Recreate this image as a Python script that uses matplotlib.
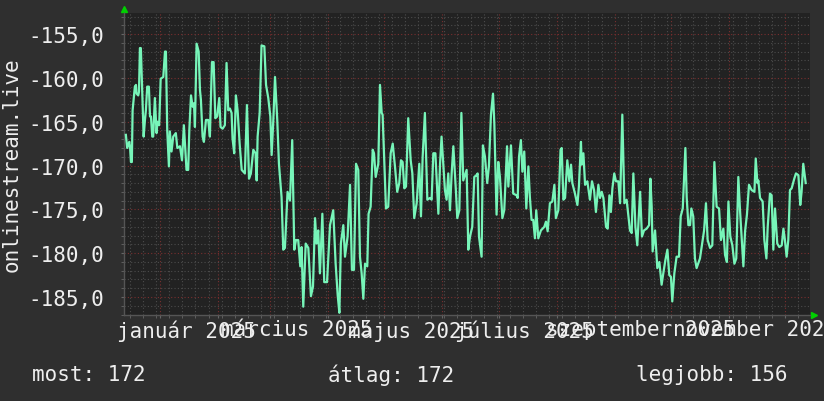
import datetime as dt

import matplotlib
matplotlib.use("Agg")
import matplotlib.pyplot as plt
import matplotlib.dates as mdates
import matplotlib.transforms as mtransforms
from matplotlib.ticker import MultipleLocator, FuncFormatter

# days after 2025-01-01 and the plotted value
days = [
    -18.2, -17.5, -16.4, -16.0, -15.5, -15.0, -14.6, -13.4, -12.8, -12.5,
    -11.6, -11.2, -10.7, -10.2, -9.4, -8.7, -8.0, -7.5, -6.8, -5.9,
    -5.3, -4.8, -4.1, -3.6, -2.7, -1.8, -1.3, -0.4, 0.4, 1.8,
    2.7, 3.2, 3.9, 4.8, 5.3, 6.2, 7.1, 8.5, 9.3, 10.7,
    11.8, 12.8, 14.2, 15.1, 15.7, 16.6, 17.5, 18.2, 18.7, 19.6,
    20.7, 21.4, 21.9, 22.8, 23.5, 24.6, 25.8, 26.7, 27.8, 28.7,
    29.6, 30.6, 31.7, 32.4, 33.5, 34.7, 35.6, 36.5, 37.4, 38.3,
    38.8, 39.7, 40.6, 41.5, 42.6, 43.7, 45.4, 46.5, 47.6, 48.6,
    49.9, 51.1, 51.7, 52.2, 53.3, 54.3, 55.8, 56.7, 57.9, 59.0,
    59.7, 60.6, 61.5, 62.7, 63.6, 65.0, 65.9, 66.8, 68.2, 69.5,
    70.7, 71.8, 72.7, 73.9, 75.0, 75.7, 76.6, 77.9, 79.3, 80.7,
    81.8, 82.9, 83.7, 84.6, 85.5, 86.8, 87.8, 89.3, 90.9, 92.6,
    93.9, 95.0, 95.9, 96.7, 98.0, 98.9, 100.3, 101.6, 102.6, 103.7,
    104.8, 106.0, 106.9, 107.8, 108.7, 109.6, 110.8, 111.5, 112.6, 113.7,
    114.4, 115.3, 116.7, 117.6, 118.5, 119.0, 119.9, 120.8, 122.0, 123.3,
    124.4, 125.6, 126.8, 127.9, 128.8, 129.7, 130.6, 131.5, 132.7, 134.0,
    134.9, 135.9, 137.2, 138.6, 139.5, 140.4, 141.6, 142.9, 144.3, 145.2,
    146.1, 147.2, 148.8, 149.7, 150.5, 152.3, 153.2, 154.1, 155.0, 155.9,
    156.8, 158.2, 158.9, 160.0, 161.1, 162.1, 163.9, 164.8, 165.7, 166.9,
    168.0, 169.2, 169.8, 170.5, 171.9, 172.6, 173.7, 174.9, 175.8, 176.9,
    178.0, 178.7, 179.9, 180.8, 181.7, 183.0, 184.0, 185.5, 186.2, 187.6,
    188.8, 190.6, 191.2, 191.9, 192.9, 193.7, 194.7, 195.8, 196.9, 197.7,
    198.6, 199.5, 200.4, 201.1, 202.2, 203.6, 205.4, 206.3, 207.2, 208.4,
    209.7, 210.8, 211.6, 212.9, 214.1, 214.7, 215.6, 216.5, 217.7, 218.8,
    219.7, 220.4, 221.8, 223.1, 223.9, 225.0, 225.4, 226.3, 227.2, 228.4,
    229.8, 230.9, 232.0, 233.0, 234.3, 235.2, 236.1, 237.0, 238.4, 239.3,
    240.2, 241.0, 241.8, 242.8, 243.7, 245.0, 245.9, 247.1, 248.2, 249.4,
    251.2, 252.1, 253.0, 254.1, 255.1, 256.6, 257.6, 258.7, 260.1, 261.4,
    262.1, 262.8, 263.3, 264.6, 265.8, 266.9, 268.1, 269.0, 270.1, 271.2,
    272.2, 273.1, 273.8, 274.9, 276.1, 277.4, 278.3, 279.4, 280.8, 281.5,
    282.4, 283.3, 284.0, 285.0, 285.9, 286.8, 288.6, 289.5, 290.8, 291.8,
    292.7, 294.0, 295.2, 296.3, 297.5, 298.8, 299.8, 301.1, 302.0, 303.0,
    303.8, 304.8, 305.9, 307.0, 308.0, 309.1, 310.0, 311.8, 312.7, 313.7,
    314.8, 316.2, 317.7, 318.4, 319.3, 319.8, 320.7, 322.1, 323.0, 324.1,
    324.8, 326.0, 326.9, 327.8, 328.7, 329.9, 331.0, 332.3, 333.2, 334.0,
    334.9, 335.8, 336.7, 337.6, 339.0, 339.9, 341.2, 342.2, 342.9, 343.8,
    345.1,
]
values = [
    -166.5, -168.0, -167.3, -167.8, -169.6, -169.6, -163.7, -161.0, -160.8, -161.8,
    -162.0, -161.6, -156.6, -156.6, -161.8, -166.7, -164.8, -163.7, -161.0, -161.0,
    -164.4, -164.4, -166.7, -166.7, -162.3, -166.3, -165.0, -165.4, -160.1, -159.9,
    -157.0, -157.0, -166.0, -170.1, -166.1, -168.4, -166.7, -166.3, -168.0, -167.8,
    -169.4, -165.4, -170.5, -170.5, -166.0, -162.0, -163.3, -162.9, -165.6, -156.1,
    -157.0, -161.4, -162.5, -166.7, -167.3, -164.8, -164.8, -166.7, -158.2, -158.2,
    -164.6, -164.4, -162.3, -165.6, -165.8, -165.4, -158.3, -163.7, -163.5, -164.0,
    -166.9, -168.6, -162.0, -163.7, -167.5, -170.5, -170.9, -163.1, -171.5, -170.9,
    -168.2, -168.6, -171.7, -166.7, -164.0, -156.3, -156.4, -160.8, -162.3, -164.4,
    -168.8, -164.8, -159.9, -164.8, -169.8, -173.6, -179.6, -179.4, -173.0, -174.0,
    -167.1, -179.6, -178.5, -178.5, -181.5, -179.3, -186.1, -178.9, -179.4, -184.9,
    -183.8, -176.0, -178.9, -177.4, -182.3, -175.5, -183.3, -183.3, -176.8, -175.1,
    -181.2, -184.8, -186.8, -178.9, -176.8, -180.4, -178.1, -172.2, -181.9, -181.9,
    -169.8, -170.5, -180.4, -182.3, -185.2, -181.2, -181.5, -175.5, -174.7, -168.2,
    -168.6, -171.3, -169.8, -160.8, -164.0, -164.2, -169.4, -174.9, -174.7, -168.6,
    -167.5, -170.1, -173.0, -172.0, -169.4, -169.6, -172.6, -172.4, -164.6, -169.4,
    -170.9, -176.0, -174.3, -169.8, -175.8, -169.0, -164.0, -173.9, -173.7, -173.9,
    -168.6, -168.6, -175.5, -169.8, -166.7, -172.8, -173.9, -170.9, -175.1, -170.9,
    -167.8, -173.0, -176.0, -175.1, -164.0, -171.7, -170.5, -179.6, -178.1, -177.0,
    -171.3, -171.1, -170.9, -178.1, -180.4, -167.7, -169.0, -172.0, -170.1, -164.2,
    -161.8, -165.2, -175.6, -169.6, -171.3, -176.0, -175.1, -167.8, -172.4, -167.7,
    -173.2, -173.4, -173.7, -169.0, -167.1, -170.7, -168.4, -174.9, -170.1, -173.6,
    -176.2, -176.2, -178.3, -175.1, -178.3, -177.4, -177.0, -176.4, -177.5, -174.3,
    -174.1, -172.2, -176.0, -175.1, -168.2, -168.0, -173.9, -173.7, -169.4, -171.8,
    -169.9, -172.0, -173.2, -174.5, -172.4, -167.3, -169.9, -168.6, -172.2, -171.8,
    -173.9, -171.8, -172.8, -175.3, -172.2, -173.7, -173.0, -173.7, -177.0, -177.2,
    -173.4, -175.3, -172.6, -170.9, -171.8, -171.8, -174.3, -164.2, -174.3, -173.9,
    -177.4, -177.7, -170.9, -177.0, -179.1, -173.0, -178.1, -177.4, -177.2, -176.8,
    -171.5, -174.7, -179.8, -177.4, -181.7, -181.0, -183.6, -182.3, -180.8, -179.6,
    -182.5, -182.7, -185.5, -182.3, -180.4, -180.4, -175.8, -174.9, -168.0, -173.6,
    -176.8, -176.8, -174.9, -175.8, -180.6, -181.7, -180.6, -179.3, -177.4, -174.3,
    -178.5, -179.4, -179.1, -169.6, -174.7, -174.9, -178.5, -177.2, -180.2, -181.0,
    -174.1, -178.1, -179.1, -181.2, -180.6, -171.3, -175.1, -181.5, -177.5, -175.6,
    -172.2, -172.8, -173.0, -169.2, -172.0, -171.7, -173.7, -174.1, -178.5, -180.6,
    -177.0, -173.2, -173.4, -179.6, -174.9, -178.9, -179.3, -179.1, -177.2, -178.5,
    -180.4, -178.5, -172.8, -172.6, -171.5, -170.9, -171.1, -174.5, -173.0, -169.8,
    -172.0,
]

label_months = [1, 3, 5, 7, 9, 11]
label_names = ["január", "március", "május", "július", "szeptember", "november"]
legend_names = ["most", "átlag", "legjobb"]
legend_values = [172, 172, 156]
y_title = "onlinestream.live"

BG = "#2f2f2f"
CANVAS = "#222222"
FG = "#eeeeee"
LINE = "#77f5b9"
MONO = "DejaVu Sans Mono"

base = dt.datetime(2025, 1, 1)
x = [mdates.date2num(base + dt.timedelta(days=d)) for d in days]

W, H = 824, 402
fig = plt.figure(figsize=(W / 100, H / 100), dpi=100, facecolor=BG)
ax = fig.add_axes([124 / W, (H - 316) / H, (810 - 124) / W, (316 - 14) / H])
ax.set_facecolor(CANVAS)

ax.plot(x, values, color=LINE, lw=1.6, zorder=3)

ax.set_xlim(mdates.date2num(base + dt.timedelta(days=-19.2)),
            mdates.date2num(base + dt.timedelta(days=347.4)))
ax.set_ylim(-187.05, -152.6)

ax.xaxis.set_major_locator(mdates.MonthLocator())
ax.xaxis.set_minor_locator(mdates.WeekdayLocator(byweekday=mdates.MO))
ax.yaxis.set_major_locator(MultipleLocator(5))
ax.yaxis.set_minor_locator(MultipleLocator(1))
ax.yaxis.set_major_formatter(FuncFormatter(lambda v, p: f"{v:.1f}".replace(".", ",")))
ax.xaxis.set_major_formatter(FuncFormatter(lambda v, p: ""))

ax.grid(which="minor", color="#4c4c4c", lw=0.8, ls=(0, (1, 2)), zorder=1)
ax.grid(which="major", color="#7a2f2f", lw=0.8, ls=(0, (1, 2)), zorder=2)

ax.tick_params(axis="both", which="both", length=2, color="#666666",
               labelcolor=FG, labelsize=15, direction="out")
ax.tick_params(axis="y", pad=12)
for lab in ax.get_yticklabels():
    lab.set_family(MONO)

for side in ("top", "right"):
    ax.spines[side].set_visible(False)
for side in ("left", "bottom"):
    ax.spines[side].set_color("#555555")
    ax.spines[side].set_linewidth(1.0)

# month labels centred mid-month, rrdtool style
for m, name in zip(label_months, label_names):
    ax.annotate(f"{name} 2025", xy=(mdates.date2num(dt.datetime(2025, m, 15)), 0),
                xycoords=("data", "axes fraction"), xytext=(0, -3),
                textcoords="offset points", ha="center", va="top",
                fontsize=15, family=MONO, color=FG, annotation_clip=False)

# axis arrows
up = mtransforms.offset_copy(ax.transAxes, fig=fig, x=0, y=4, units="dots")
ax.plot([0], [1], marker="^", ms=5, color="#00d000", transform=up, clip_on=False)
right = mtransforms.offset_copy(ax.transAxes, fig=fig, x=4, y=0, units="dots")
ax.plot([1], [0], marker=">", ms=5, color="#00d000", transform=right, clip_on=False)

fig.text(12 / W, (H - 165) / H, y_title, rotation=90, ha="center", va="center",
         fontsize=15, family=MONO, color=FG)

legend_x = [32, 328, 636]
for lx, name, val in zip(legend_x, legend_names, legend_values):
    fig.text(lx / W, (H - 375) / H, f"{name}: {val}", ha="left", va="center",
             fontsize=15, family=MONO, color=FG)

fig.savefig("out.png", dpi=100, facecolor=BG)
